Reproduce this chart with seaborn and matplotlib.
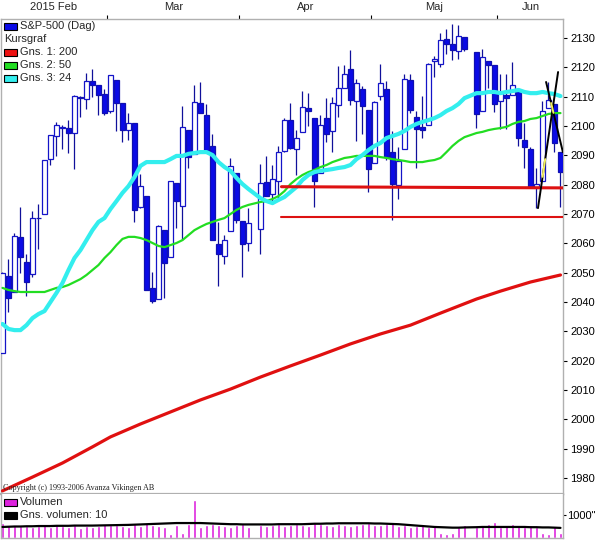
import numpy as np
import pandas as pd
import seaborn as sns
import matplotlib.pyplot as plt
from matplotlib.patches import Rectangle

sns.set_style("white")
plt.rcParams['font.family'] = ['Liberation Sans', 'DejaVu Sans']

# daily S&P-500 candles
dates = ["2015-02-03", "2015-02-04", "2015-02-05", "2015-02-06", "2015-02-09", "2015-02-10", "2015-02-11",
         "2015-02-12", "2015-02-13", "2015-02-17", "2015-02-18", "2015-02-19", "2015-02-20", "2015-02-23",
         "2015-02-24", "2015-02-25", "2015-02-26", "2015-02-27",
         "2015-03-02", "2015-03-03", "2015-03-04", "2015-03-05", "2015-03-06", "2015-03-09", "2015-03-10",
         "2015-03-11", "2015-03-12", "2015-03-13", "2015-03-16", "2015-03-17", "2015-03-18", "2015-03-19",
         "2015-03-20", "2015-03-23", "2015-03-24", "2015-03-25", "2015-03-26", "2015-03-27", "2015-03-30",
         "2015-03-31",
         "2015-04-01", "2015-04-02", "2015-04-06", "2015-04-07", "2015-04-08", "2015-04-09", "2015-04-10",
         "2015-04-13", "2015-04-14", "2015-04-15", "2015-04-16", "2015-04-17", "2015-04-20", "2015-04-21",
         "2015-04-22", "2015-04-23", "2015-04-24", "2015-04-27", "2015-04-28", "2015-04-29", "2015-04-30",
         "2015-05-01", "2015-05-04", "2015-05-05", "2015-05-06", "2015-05-07", "2015-05-08", "2015-05-11",
         "2015-05-12", "2015-05-13", "2015-05-14", "2015-05-15", "2015-05-18", "2015-05-19", "2015-05-20",
         "2015-05-21", "2015-05-22", "2015-05-26", "2015-05-27", "2015-05-28", "2015-05-29",
         "2015-06-01", "2015-06-02", "2015-06-03", "2015-06-04", "2015-06-05", "2015-06-08", "2015-06-09",
         "2015-06-10", "2015-06-11", "2015-06-12", "2015-06-15"]

opens = [2022.7, 2048.9, 2043.5, 2062.3, 2053.5, 2049.4, 2068.6, 2070.0, 2088.8, 2096.5, 2099.2, 2099.3,
         2097.7, 2109.8, 2109.1, 2115.3, 2113.9, 2110.9,
         2105.2, 2115.8, 2107.7, 2098.5, 2100.9, 2072.3, 2076.1, 2044.7, 2041.1, 2064.6, 2055.4, 2080.6,
         2072.8, 2098.7, 2090.3, 2108.0, 2103.9, 2093.1, 2059.9, 2055.8, 2064.1, 2084.1,
         2067.6, 2060.0, 2064.9, 2080.8, 2076.9, 2081.3, 2091.5, 2102.0, 2092.3, 2097.8, 2106.0, 2102.6,
         2084.1, 2102.8, 2098.3, 2107.2, 2112.8, 2119.3, 2108.4, 2112.5, 2105.5,
         2087.4, 2110.2, 2112.6, 2091.3, 2080.0, 2092.1, 2115.6, 2102.9, 2099.6, 2100.4, 2122.1, 2121.3,
         2129.5, 2127.8, 2125.6, 2130.4, 2125.3, 2105.1, 2122.3, 2120.7,
         2108.6, 2110.4, 2110.6, 2112.4, 2095.1, 2092.3, 2079.1, 2081.1, 2106.2, 2107.4, 2091.3]
highs = [2050.3, 2054.7, 2063.6, 2072.4, 2056.2, 2070.9, 2073.5, 2088.5, 2097.0, 2101.3, 2100.2, 2102.1,
         2110.6, 2110.1, 2117.9, 2119.6, 2113.9, 2112.7,
         2117.5, 2115.8, 2107.7, 2104.3, 2100.9, 2083.5, 2076.1, 2050.1, 2066.4, 2064.6, 2081.4, 2080.6,
         2106.9, 2098.7, 2113.9, 2114.9, 2107.6, 2097.4, 2067.2, 2062.8, 2089.0, 2084.1,
         2067.6, 2072.2, 2087.0, 2089.8, 2086.7, 2093.3, 2102.6, 2107.7, 2098.6, 2111.9, 2111.3, 2102.6,
         2103.9, 2109.6, 2110.0, 2120.5, 2120.9, 2125.9, 2116.0, 2113.7, 2105.5,
         2108.4, 2121.0, 2115.2, 2098.4, 2092.9, 2117.7, 2117.7, 2105.1, 2110.2, 2121.5, 2123.9, 2131.8,
         2133.0, 2134.7, 2134.3, 2130.4, 2125.3, 2126.2, 2122.3, 2120.7,
         2117.6, 2117.6, 2121.9, 2112.9, 2101.0, 2093.0, 2085.6, 2108.5, 2115.0, 2107.4, 2091.3]
lows = [2022.7, 2036.7, 2043.5, 2050.0, 2041.9, 2048.6, 2058.0, 2070.0, 2086.7, 2089.8, 2092.2, 2090.8,
        2085.4, 2103.0, 2105.9, 2109.9, 2103.8, 2103.8,
        2104.5, 2098.3, 2094.5, 2095.2, 2067.3, 2072.2, 2044.2, 2039.7, 2041.1, 2041.2, 2055.4, 2065.1,
        2061.2, 2085.6, 2090.3, 2104.4, 2091.5, 2061.1, 2045.5, 2053.0, 2064.1, 2067.0,
        2048.4, 2057.3, 2056.5, 2076.1, 2073.3, 2074.3, 2091.2, 2092.3, 2083.2, 2097.8, 2100.0, 2072.4,
        2084.1, 2094.4, 2091.1, 2103.2, 2112.8, 2107.0, 2094.9, 2097.4, 2077.6,
        2087.4, 2108.8, 2088.5, 2067.9, 2075.0, 2092.1, 2104.6, 2085.6, 2096.0, 2100.4, 2116.8, 2120.0,
        2124.5, 2122.6, 2123.0, 2125.7, 2099.2, 2105.1, 2112.9, 2104.9,
        2099.1, 2099.1, 2110.6, 2093.2, 2085.7, 2079.1, 2072.1, 2081.1, 2106.2, 2091.3, 2072.5]
closes = [2050.0, 2041.5, 2062.5, 2055.5, 2046.7, 2068.6, 2068.5, 2088.5, 2097.0, 2100.3, 2099.7, 2097.5,
          2110.3, 2109.7, 2115.5, 2113.9, 2110.7, 2104.5,
          2117.4, 2107.8, 2098.5, 2101.0, 2071.3, 2079.4, 2044.2, 2040.2, 2066.0, 2053.4, 2081.2, 2074.3,
          2099.5, 2089.3, 2108.1, 2104.4, 2091.5, 2061.1, 2056.2, 2061.0, 2086.2, 2067.9,
          2059.7, 2067.0, 2080.6, 2076.3, 2081.9, 2091.2, 2102.1, 2092.4, 2095.8, 2106.6, 2105.0, 2081.2,
          2100.4, 2097.3, 2108.0, 2112.9, 2117.7, 2108.9, 2114.8, 2106.9, 2085.5,
          2108.3, 2114.5, 2089.5, 2080.2, 2088.0, 2116.1, 2105.3, 2099.1, 2098.5, 2121.1, 2122.7, 2129.2,
          2127.8, 2125.9, 2130.8, 2126.1, 2104.2, 2123.5, 2120.8, 2107.4,
          2111.7, 2109.6, 2114.1, 2095.8, 2092.8, 2079.3, 2080.2, 2105.2, 2108.9, 2094.1, 2084.4]

# moving averages
ma24 = [2032.5, 2030.8, 2030.4, 2030.4, 2032.1, 2034.5, 2035.9, 2036.9, 2040.0, 2043.1, 2046.5, 2050.9,
        2055.0, 2057.7, 2061.1, 2064.5, 2067.3, 2068.6,
        2071.7, 2074.4, 2077.2, 2079.5, 2082.6, 2086.4, 2087.7, 2087.7, 2087.7, 2087.7, 2088.7, 2089.8,
        2089.8, 2090.5, 2090.8, 2091.1, 2091.1, 2090.1, 2087.7, 2086.0, 2084.7, 2082.3,
        2080.2, 2078.5, 2075.4, 2074.4, 2073.7, 2074.8, 2075.8, 2077.5, 2079.2, 2081.6, 2083.3, 2084.3,
        2084.7, 2085.0, 2085.3, 2085.7, 2086.0, 2086.7, 2088.7, 2090.1, 2091.8,
        2093.2, 2094.2, 2095.9, 2096.6, 2097.3, 2098.3, 2099.7, 2100.7, 2101.4, 2102.0, 2102.7, 2103.7,
        2105.1, 2106.1, 2107.5, 2109.5, 2111.2, 2111.2, 2111.6, 2111.6,
        2111.2, 2111.6, 2111.9, 2112.3, 2111.6, 2111.2, 2111.2, 2111.6, 2111.2, 2110.9, 2110.2]
ma50 = [2044.8, 2044.1, 2043.7, 2043.4, 2043.4, 2043.4, 2043.4, 2043.4, 2044.1, 2044.8, 2045.1, 2045.8,
        2046.8, 2047.8, 2049.2, 2050.9, 2052.6, 2055.0,
        2057.0, 2059.4, 2061.5, 2062.2, 2062.2, 2061.8, 2061.1, 2060.1, 2059.1, 2058.7, 2059.4, 2060.1,
        2061.1, 2062.8, 2064.5, 2065.6, 2066.6, 2067.3, 2068.0, 2068.6, 2070.0, 2071.4,
        2072.4, 2073.1, 2074.1, 2074.4, 2075.1, 2076.1, 2077.8, 2080.2, 2081.9, 2083.3, 2084.3, 2085.0,
        2086.0, 2086.7, 2087.7, 2088.4, 2089.1, 2089.4, 2089.8, 2089.8, 2089.8,
        2089.8, 2089.4, 2089.1, 2088.7, 2088.4, 2088.1, 2087.7, 2087.7, 2087.7, 2088.1, 2088.4, 2089.1,
        2091.1, 2093.2, 2094.9, 2096.2, 2097.6, 2098.0, 2098.6, 2099.0,
        2099.3, 2099.7, 2100.7, 2101.4, 2101.7, 2102.4, 2102.7, 2103.4, 2104.1, 2104.4, 2104.4]
ma200_dates = ["2015-02-03", "2015-02-10", "2015-02-18", "2015-02-25", "2015-03-02", "2015-03-09",
               "2015-03-16", "2015-03-23", "2015-03-30", "2015-04-06", "2015-04-13", "2015-04-20",
               "2015-04-27", "2015-05-04", "2015-05-11", "2015-05-18", "2015-05-26", "2015-06-01",
               "2015-06-08", "2015-06-15"]
ma200 = [1975.6, 1980.3, 1985.1, 1990.6, 1994.0, 1998.4, 2002.5, 2006.6, 2010.3, 2014.4, 2018.2, 2021.9,
         2025.7, 2029.1, 2032.1, 2036.2, 2041.0, 2043.7, 2046.8, 2049.2]

# volume (chart units, tick at 1000) and its 10-day average
volume = [650, 560, 560, 520, 520, 480, 520, 560, 480, 560, 520, 480, 560, 440, 520, 480, 520, 600,
          560, 560, 520, 480, 600, 520, 650, 560, 520, 480, 180, 560, 200, 600, 1650, 480, 560, 600,
          560, 520, 480, 560,
          600, 480, 560, 520, 560, 600, 520, 560, 600, 560, 520, 650, 600, 560, 520, 600, 560, 520,
          560, 600, 650,
          560, 560, 600, 650, 520, 560, 480, 520, 560, 480, 560, 200, 180, 200, 480, 560, 480, 560,
          600, 700,
          480, 560, 600, 520, 480, 560, 480, 200, 180, 520, 200]
volume_avg = [480, 490, 500, 500, 510, 510, 520, 520, 520, 530, 530, 530, 540, 540, 540, 540, 545, 550,
              555, 560, 565, 570, 580, 590, 600, 610, 620, 630, 640, 650, 650, 650, 650, 650, 640, 630,
              620, 610, 600, 600,
              590, 590, 590, 590, 590, 600, 600, 600, 600, 600, 610, 620, 620, 630, 630, 640, 640, 640,
              640, 640, 640,
              630, 630, 620, 610, 600, 580, 560, 540, 520, 500, 480, 470, 460, 450, 450, 460, 470, 480,
              480, 480,
              480, 480, 480, 480, 480, 470, 470, 460, 460, 450, 440]

# hand drawn support lines and trend lines
support_start = "2015-04-09"
support_hi = [2079.3, 2078.9]
support_lo = [2068.9, 2068.9]
trend_a_x = [89.25, 92.6]
trend_a_y = [2072.0, 2118.4]
trend_b_x = [90.6, 93.4]
trend_b_y = [2115.0, 2091.1]
highlight_a = [0.23, 0.36]
highlight_b = [0.30, 0.44]

month_labels = ["2015 Feb", "Mar", "Apr", "Maj", "Jun"]
month_starts = ["2015-02-02", "2015-03-02", "2015-04-01", "2015-05-01", "2015-06-01"]

W, H = 599, 540
fig = plt.figure(figsize=(W / 100, H / 100), dpi=100)
ax = fig.add_axes([1 / W, 46 / H, 562 / W, 475 / H])
axv = fig.add_axes([1 / W, 2 / H, 562 / W, 44 / H])

hol = ["2015-02-16"]
d = np.array(dates, dtype="datetime64[D]")
x = np.busday_count("2015-02-03", d, holidays=hol)
df = pd.DataFrame({"x": x, "open": opens, "high": highs, "low": lows, "close": closes,
                   "ma24": ma24, "ma50": ma50, "vol": volume, "vol_avg": volume_avg})
x200 = np.busday_count("2015-02-03", np.array(ma200_dates, dtype="datetime64[D]"), holidays=hol)
xmin, xmax = -0.25, 93.42

# candles
up = df[df.close >= df.open]
dn = df[df.close < df.open]
ax.vlines(df.x, df.low, df.high, color="#10109a", lw=0.9, zorder=2)
ax.bar(up.x, (up.close - up.open).clip(lower=0.15), bottom=up.open, width=0.72,
       color="white", edgecolor="#1414c8", linewidth=0.9, zorder=3)
ax.bar(dn.x, (dn.open - dn.close).clip(lower=0.15), bottom=dn.close, width=0.72,
       color="#0a0ae6", edgecolor="#1010b0", linewidth=0.9, zorder=3)

# moving averages
sns.lineplot(x=x200, y=ma200, ax=ax, color="#e01010", lw=2.3, zorder=4)
sns.lineplot(data=df, x="x", y="ma50", ax=ax, color="#22dd22", lw=1.6, zorder=4)
sns.lineplot(data=df, x="x", y="ma24", ax=ax, color="#33eeee", lw=3.0, zorder=4)

# support / trend lines
xs = np.busday_count("2015-02-03", np.datetime64(support_start), holidays=hol) + 0.5
ax.plot([xs, xmax], support_hi, color="#dd1111", lw=2.2, zorder=5)
ax.plot([xs, xmax], support_lo, color="#dd1111", lw=1.5, zorder=5)
for tx, ty, hl in [(trend_a_x, trend_a_y, highlight_a), (trend_b_x, trend_b_y, highlight_b)]:
    ax.plot(tx, ty, color="black", lw=1.4, zorder=6)
    hx = [tx[0] + f * (tx[1] - tx[0]) for f in hl]
    hy = [ty[0] + f * (ty[1] - ty[0]) for f in hl]
    ax.plot(hx, hy, color="#f4f060", lw=1.4, zorder=7)

ax.set_xlim(xmin, xmax)
ax.set_ylim(1974.53, 2136.48)
ax.set_xlabel("")
ax.set_ylabel("")
ax.yaxis.tick_right()
ax.set_yticks(np.arange(1980, 2131, 10))
ax.tick_params(axis="y", length=3, width=0.8, pad=2, labelsize=8, colors="black", direction="out")

# month ticks on top
ms = np.busday_count("2015-02-03", np.array(month_starts, dtype="datetime64[D]"), holidays=hol)
bounds = ms[1:] - 0.5
first = np.r_[0, ms[1:]]
last = np.r_[ms[1:] - 1, df.x.iloc[-1]]
centers = (first + last) / 2
ax.xaxis.tick_top()
ax.set_xticks(bounds)
ax.set_xticklabels([])
ax.set_xticks(centers, minor=True)
ax.set_xticklabels(month_labels, minor=True)
ax.tick_params(axis="x", which="major", length=3, width=0.8, direction="out", colors="black")
ax.tick_params(axis="x", which="minor", length=0, pad=5, labelsize=8)

for a in (ax, axv):
    for s in a.spines.values():
        s.set_color("#b0b0b0")
        s.set_linewidth(1.0)
axv.spines["top"].set_visible(False)
ax.spines["bottom"].set_linewidth(1.6)

# volume panel
axv.bar(df.x, df.vol, width=0.5, color="#dd22dd", zorder=2)
sns.lineplot(data=df, x="x", y="vol_avg", ax=axv, color="black", lw=1.6, zorder=3)
axv.set_xlim(xmin, xmax)
axv.set_ylim(0, 1913)
axv.set_xticks([])
axv.set_xlabel("")
axv.set_ylabel("")
axv.yaxis.tick_right()
axv.set_yticks([1000])
axv.set_yticklabels(['1000"'])
axv.tick_params(axis="y", length=2, width=0.8, pad=1, labelsize=8, colors="black")


def fx(px):
    return px / W


def fy(py):
    return 1 - py / H


def legend_item(py, color, label):
    fig.add_artist(Rectangle((fx(4), fy(py + 3.5)), 13 / W, 7 / H, transform=fig.transFigure,
                             facecolor=color, edgecolor="black", lw=0.8, zorder=10))
    fig.text(fx(20), fy(py), label, fontsize=8, va="center", ha="left", zorder=10)


legend_item(26, "#0a0ae6", "S&P-500 (Dag)")
fig.text(fx(4), fy(39), "Kursgraf", fontsize=8, va="center", ha="left")
legend_item(52, "#ee1111", "Gns. 1: 200")
legend_item(65, "#22dd22", "Gns. 2: 50")
legend_item(78, "#33eeee", "Gns. 3: 24")
legend_item(502, "#dd22dd", "Volumen")
legend_item(515, "black", "Gns. volumen: 10")

fig.text(fx(3), fy(488), "Copyright (c) 1993-2006 Avanza Vikingen AB", fontsize=5.9,
         family="Liberation Serif", color="#222222", va="center", ha="left")

fig.savefig("out.png", dpi=100)
